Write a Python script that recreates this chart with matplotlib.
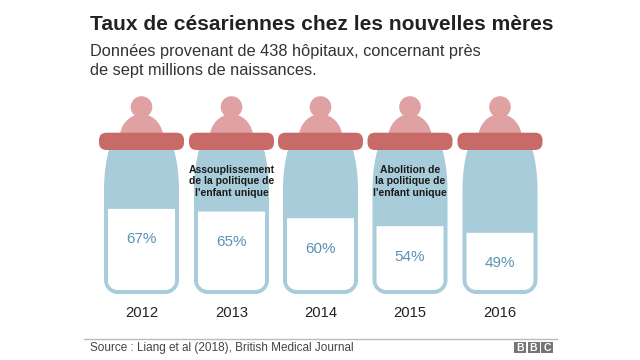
import matplotlib
matplotlib.use('Agg')
import matplotlib.pyplot as plt
from matplotlib.patches import Circle, FancyBboxPatch, PathPatch, Rectangle
from matplotlib.path import Path

years = ['2012', '2013', '2014', '2015', '2016']
rates = [67, 65, 60, 54, 49]
notes = {'2013': "Assouplissement\nde la politique de\nl'enfant unique",
         '2015': "Abolition de\nla politique de\nl'enfant unique"}

BLUE = '#a9ccda'
RED = '#c76a68'
PINK = '#e0a1a2'

plt.rcParams['font.family'] = ['Liberation Sans', 'DejaVu Sans']

fig = plt.figure(figsize=(6.4, 3.6), dpi=100)
ax = fig.add_axes([0, 0, 1, 1])
ax.set_xlim(0, 640)
ax.set_ylim(360, 0)
ax.axis('off')


def draw_bottle(cx, rate):
    # nipple and its dome
    dome = Path([(cx - 21.5, 134), (cx - 19, 120), (cx - 8, 114), (cx, 114),
                 (cx + 8, 114), (cx + 19, 120), (cx + 21.5, 134), (cx - 21.5, 134)],
                [Path.MOVETO, Path.CURVE4, Path.CURVE4, Path.CURVE4,
                 Path.CURVE4, Path.CURVE4, Path.CURVE4, Path.CLOSEPOLY])
    ax.add_patch(PathPatch(dome, fc=PINK, ec='none'))
    ax.add_patch(Circle((cx, 107), 10.8, fc=PINK, ec='none'))

    # body
    body = Path([(cx - 32, 148), (cx - 35, 158), (cx - 37.5, 172), (cx - 37.5, 190),
                 (cx - 37.5, 280), (cx - 37.5, 288), (cx - 31, 294), (cx - 24, 294),
                 (cx + 24, 294), (cx + 31, 294), (cx + 37.5, 288), (cx + 37.5, 280),
                 (cx + 37.5, 190), (cx + 37.5, 172), (cx + 35, 158), (cx + 32, 148),
                 (cx - 32, 148)],
                [Path.MOVETO, Path.CURVE4, Path.CURVE4, Path.CURVE4,
                 Path.LINETO, Path.CURVE4, Path.CURVE4, Path.CURVE4,
                 Path.LINETO, Path.CURVE4, Path.CURVE4, Path.CURVE4,
                 Path.LINETO, Path.CURVE4, Path.CURVE4, Path.CURVE4,
                 Path.CLOSEPOLY])
    ax.add_patch(PathPatch(body, fc=BLUE, ec='none'))

    # milk level, white panel with square top and round bottom
    top = 298 - 1.33 * rate
    panel = Path([(cx - 33.5, top), (cx - 33.5, 281), (cx - 33.5, 286), (cx - 29, 290),
                  (cx - 24, 290), (cx + 24, 290), (cx + 29, 290), (cx + 33.5, 286),
                  (cx + 33.5, 281), (cx + 33.5, top), (cx - 33.5, top)],
                 [Path.MOVETO, Path.LINETO, Path.CURVE4, Path.CURVE4, Path.CURVE4,
                  Path.LINETO, Path.CURVE4, Path.CURVE4, Path.CURVE4,
                  Path.LINETO, Path.CLOSEPOLY])
    ax.add_patch(PathPatch(panel, fc='white', ec='none'))
    ax.text(cx, top + 30.5, f'{rate}%', ha='center', va='center',
            fontsize=11, color='#5b93b3')

    # collar
    ax.add_patch(FancyBboxPatch((cx - 42.5, 132.7), 85, 17.3,
                                boxstyle='round,pad=0,rounding_size=7.5',
                                fc=RED, ec='none'))


centers = [141.5, 231.5, 320.5, 410, 500]
for cx, year, rate in zip(centers, years, rates):
    draw_bottle(cx, rate)
    ax.text(cx, 313, year, ha='center', va='center', fontsize=10.6, color='#222222')
    if year in notes:
        ax.text(cx, 181.5, notes[year], ha='center', va='center', fontsize=7.5,
                fontweight='bold', color='#1a1a1a', linespacing=1.14)

ax.text(90, 24, 'Taux de césariennes chez les nouvelles mères', ha='left', va='center',
        fontsize=15.15, fontweight='bold', color='#222222')
ax.text(90, 51.5, 'Données provenant de 438 hôpitaux, concernant près', ha='left',
        va='center', fontsize=11.8, color='#333333')
ax.text(90, 70.5, 'de sept millions de naissances.', ha='left', va='center',
        fontsize=11.8, color='#333333')

ax.plot([84, 557], [338.5, 338.5], color='#bbbbbb', lw=1)
ax.text(90, 348, 'Source : Liang et al (2018), British Medical Journal', ha='left',
        va='center', fontsize=8.45, color='#444444')

# BBC blocks
for x, letter in zip([514, 527.5, 541], 'BBC'):
    ax.add_patch(Rectangle((x, 342), 12, 11, fc='#757575', ec='none'))
    ax.text(x + 6, 348, letter, ha='center', va='center', fontsize=7.5,
            fontweight='bold', color='white')

fig.savefig('out.png', dpi=100)
